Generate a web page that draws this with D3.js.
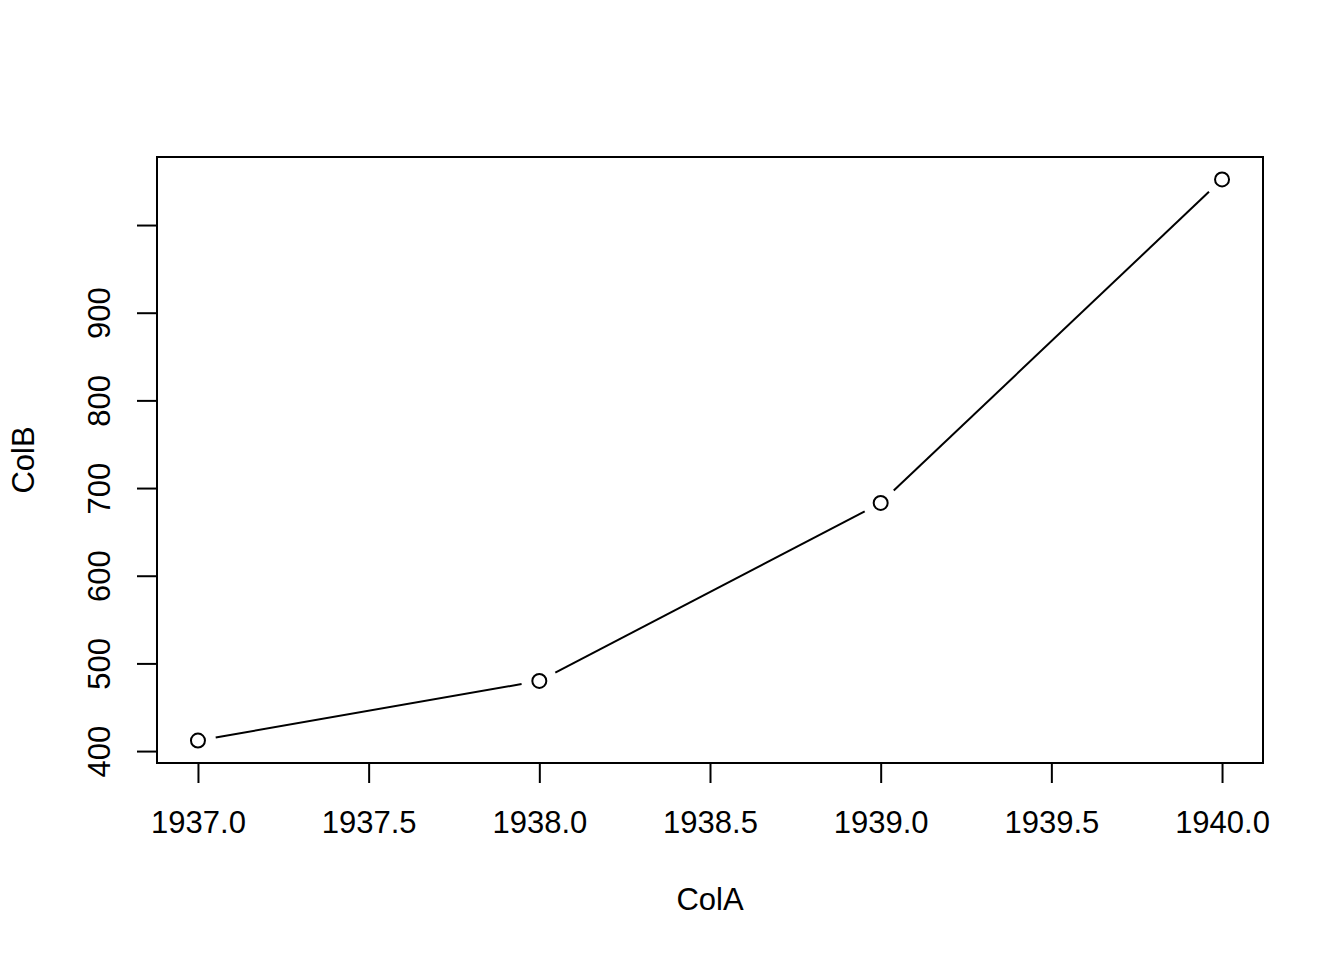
<!DOCTYPE html>
<html>
<head>
<meta charset="utf-8">
<script src="https://cdn.jsdelivr.net/npm/d3@7"></script>
<style>
  html, body { margin: 0; padding: 0; background: #fff; }
  svg { display: block; }
  text { font-family: "Liberation Sans", Arial, sans-serif; fill: #000; }
</style>
</head>
<body>
<svg id="chart" width="1344" height="960"></svg>
<script>
const colA = [1937, 1938, 1939, 1940];
const colB = [412, 480, 683, 1052];
const xTicks = [1937.0, 1937.5, 1938.0, 1938.5, 1939.0, 1939.5, 1940.0];
const yTicks = [400, 500, 600, 700, 800, 900, 1000];
const yTickLabels = ["400", "500", "600", "700", "800", "900", ""];

const svg = d3.select("#chart");
const box = { left: 157, right: 1263, top: 157, bottom: 763 };
const fs = 31;

// R-style 4% extension
const xr = d3.extent(colA), yr = d3.extent(colB);
const xPad = (xr[1] - xr[0]) * 0.04, yPad = (yr[1] - yr[0]) * 0.04;
const x = d3.scaleLinear().domain([xr[0] - xPad, xr[1] + xPad]).range([box.left, box.right]);
const y = d3.scaleLinear().domain([yr[0] - yPad, yr[1] + yPad]).range([box.bottom, box.top]);

// box
svg.append("rect")
  .attr("x", box.left).attr("y", box.top)
  .attr("width", box.right - box.left).attr("height", box.bottom - box.top)
  .attr("fill", "none").attr("stroke", "#000").attr("stroke-width", 2);

// x axis
const xAxis = d3.axisBottom(x).tickValues(xTicks).tickSize(20).tickPadding(0).tickFormat(d3.format(".1f"));
const gx = svg.append("g").attr("transform", `translate(0,${box.bottom})`).call(xAxis);
gx.select(".domain").attr("d", `M${x(xTicks[0])},0H${x(xTicks[xTicks.length-1])}`).attr("stroke-width", 2);
gx.selectAll(".tick line").attr("stroke-width", 2);
gx.selectAll(".tick text").attr("y", 70).attr("dy", null)
  .style("font-size", fs + "px").style("font-family", "'Liberation Sans', Arial, sans-serif");

// y axis
const yAxis = d3.axisLeft(y).tickValues(yTicks).tickSize(20).tickFormat((d, i) => yTickLabels[i]);
const gy = svg.append("g").attr("transform", `translate(${box.left},0)`).call(yAxis);
gy.select(".domain").attr("d", `M0,${y(yTicks[0])}V${y(yTicks[yTicks.length-1])}`).attr("stroke-width", 2);
gy.selectAll(".tick line").attr("stroke-width", 2);
gy.selectAll(".tick text")
  .attr("x", null).attr("dy", null)
  .attr("text-anchor", "middle")
  .attr("transform", "translate(-47,0) rotate(-90)")
  .style("font-size", fs + "px").style("font-family", "'Liberation Sans', Arial, sans-serif");

// axis titles
svg.append("text").attr("x", (box.left + box.right) / 2).attr("y", 910)
  .attr("text-anchor", "middle").style("font-size", fs + "px").text("ColA");
svg.append("text").attr("transform", `translate(34,${(box.top + box.bottom) / 2}) rotate(-90)`)
  .attr("text-anchor", "middle").style("font-size", fs + "px").text("ColB");

// type="b": segments with gaps, plus open circles
const pts = colA.map((a, i) => [x(a), y(colB[i])]);
const gap = 18;
const segs = d3.pairs(pts).map(([p, q]) => {
  const dx = q[0] - p[0], dy = q[1] - p[1], L = Math.hypot(dx, dy);
  const ux = dx / L, uy = dy / L;
  return [p[0] + ux * gap, p[1] + uy * gap, q[0] - ux * gap, q[1] - uy * gap];
});
svg.append("g").selectAll("line").data(segs).join("line")
  .attr("x1", d => d[0]).attr("y1", d => d[1]).attr("x2", d => d[2]).attr("y2", d => d[3])
  .attr("stroke", "#000").attr("stroke-width", 2);

svg.append("g").selectAll("circle").data(pts).join("circle")
  .attr("cx", d => d[0]).attr("cy", d => d[1]).attr("r", 7)
  .attr("fill", "none").attr("stroke", "#000").attr("stroke-width", 2);
</script>
</body>
</html>
